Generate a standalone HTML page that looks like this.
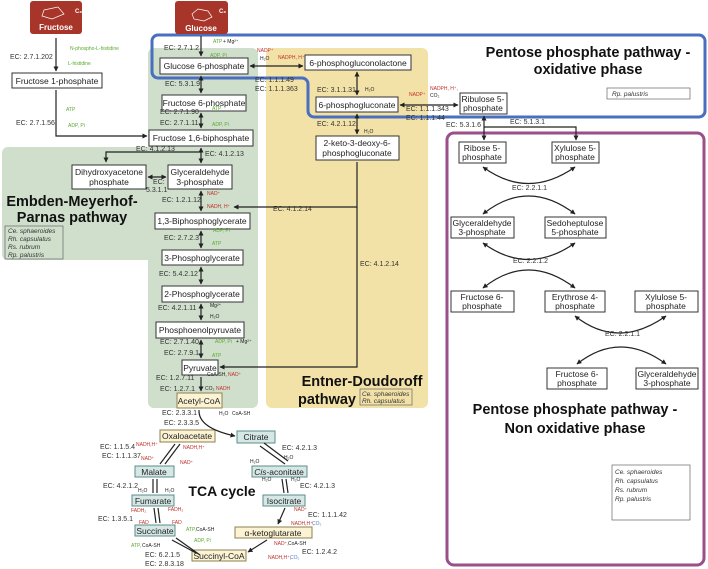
<!DOCTYPE html>
<html><head><meta charset="utf-8"><style>
html,body{margin:0;padding:0;background:#fff}
svg{display:block;font-family:"Liberation Sans",Arial,sans-serif}
.b{fill:#fff;stroke:#333;stroke-width:1}
.t{font-size:8.5px;fill:#222}
.e{font-size:7px;fill:#333}
.g{font-size:5px;fill:#5aaa30}
.r{font-size:5px;fill:#c0302a}
.k{font-size:5px;fill:#222}
.h{font-size:14.5px;font-weight:bold;fill:#111}
.l{stroke:#222;stroke-width:1.2;fill:none}
.tc{fill:#d5e8e6;stroke:#5c8c88;stroke-width:1}
.yc{fill:#fbf3d3;stroke:#8c8250;stroke-width:1}
.sp{font-size:6.5px;font-style:italic;fill:#333}
</style></head><body>
<svg width="708" height="569" viewBox="0 0 708 569">
<defs><marker id="a" markerUnits="userSpaceOnUse" markerWidth="5" markerHeight="5" refX="4.5" refY="2.5" orient="auto"><path d="M0,0L5,2.5L0,5z" fill="#222"/></marker>
<marker id="s" markerUnits="userSpaceOnUse" markerWidth="5" markerHeight="5" refX="0.5" refY="2.5" orient="auto"><path d="M5,0L0,2.5L5,5z" fill="#222"/></marker></defs>
<rect x="266" y="48" width="162" height="360" rx="6" fill="#f3e2a8"/>
<path d="M154,48H252a6,6 0 0 1 6,6V402a6,6 0 0 1-6,6H154a6,6 0 0 1-6-6V260H8a6,6 0 0 1-6-6V153a6,6 0 0 1 6-6H148V54a6,6 0 0 1 6-6z" fill="#cfdfcc"/>
<path d="M158,35H699a6,6 0 0 1 6,6V111a6,6 0 0 1-6,6H314a6,6 0 0 1-6-6V84a6,6 0 0 0-6-6H158a6,6 0 0 1-6-6V41a6,6 0 0 1 6-6z" fill="none" stroke="#4a6fbe" stroke-width="3"/>
<rect x="447" y="133" width="257" height="432" rx="7" fill="none" stroke="#9a4f8a" stroke-width="3"/>
<rect x="30" y="1" width="52" height="33" rx="3" fill="#a8352a"/>
<path d="M44,10L58,7L64,14L52,19L42,16Z" fill="none" stroke="#fff" stroke-width=".7"/>
<text x="56" y="30" text-anchor="middle" font-size="8" font-weight="bold" fill="#fff">Fructose</text>
<text x="75" y="13" font-size="6" fill="#fff" font-weight="bold">C₆</text>
<rect x="175" y="1" width="53" height="33" rx="3" fill="#a8352a"/>
<path d="M192,14L198,9L208,11L212,17L204,21L194,19Z" fill="none" stroke="#fff" stroke-width=".7"/>
<text x="201" y="31" text-anchor="middle" font-size="8" font-weight="bold" fill="#fff">Glucose</text>
<text x="219" y="13" font-size="6" fill="#fff" font-weight="bold">C₆</text>
<text x="588" y="57" text-anchor="middle" class="h">Pentose phosphate pathway -</text>
<text x="588" y="74" text-anchor="middle" class="h">oxidative phase</text>
<rect x="607" y="88" width="83" height="11" fill="#fff" stroke="#666" stroke-width=".7"/><text x="612" y="96" class="sp">Rp. palustris</text>
<text x="72" y="206" text-anchor="middle" class="h">Embden-Meyerhof-</text>
<text x="72" y="222" text-anchor="middle" class="h">Parnas pathway</text>
<rect x="5" y="226" width="58" height="33" fill="none" stroke="#666" stroke-width=".7"/>
<text x="8" y="233" class="sp">Ce. sphaeroides</text><text x="8" y="241" class="sp">Rh. capsulatus</text><text x="8" y="249" class="sp">Rs. rubrum</text><text x="8" y="257" class="sp">Rp. palustris</text>
<text x="362" y="386" text-anchor="middle" class="h">Entner-Doudoroff</text>
<text x="327" y="404" text-anchor="middle" class="h">pathway</text>
<rect x="360" y="389" width="52" height="16" fill="none" stroke="#666" stroke-width=".7"/>
<text x="362" y="396" class="sp">Ce. sphaeroides</text><text x="362" y="403" class="sp">Rh. capsulatus</text>
<text x="222" y="496" text-anchor="middle" font-size="14" font-weight="bold" fill="#111">TCA cycle</text>
<text x="575" y="414" text-anchor="middle" class="h">Pentose phosphate pathway -</text>
<text x="575" y="433" text-anchor="middle" class="h">Non oxidative phase</text>
<rect x="612" y="465" width="78" height="55" fill="#fff" stroke="#666" stroke-width=".7"/>
<text x="615" y="474" class="sp">Ce. sphaeroides</text><text x="615" y="483" class="sp">Rh. capsulatus</text><text x="615" y="492" class="sp">Rs. rubrum</text><text x="615" y="501" class="sp">Rp. palustris</text>
<g>
<rect class="b" x="12" y="73" width="90" height="15"/><text class="t" x="57" y="84" text-anchor="middle">Fructose 1-phosphate</text>
<rect class="b" x="160" y="58" width="88" height="16"/><text class="t" x="204" y="69" text-anchor="middle">Glucose 6-phosphate</text>
<rect class="b" x="162" y="95" width="84" height="16"/><text class="t" x="204" y="106" text-anchor="middle">Fructose 6-phosphate</text>
<rect class="b" x="149" y="130" width="104" height="16"/><text class="t" x="201" y="141" text-anchor="middle">Fructose 1,6-biphosphate</text>
<rect class="b" x="72" y="165" width="74" height="24"/><text class="t" x="109" y="175" text-anchor="middle">Dihydroxyacetone</text><text class="t" x="109" y="185" text-anchor="middle">phosphate</text>
<rect class="b" x="168" y="165" width="64" height="24"/><text class="t" x="200" y="175" text-anchor="middle">Glyceraldehyde</text><text class="t" x="200" y="185" text-anchor="middle">3-phosphate</text>
<rect class="b" x="155" y="213" width="95" height="16"/><text class="t" x="202" y="224" text-anchor="middle">1,3-Biphosphoglycerate</text>
<rect class="b" x="162" y="250" width="81" height="15"/><text class="t" x="202" y="261" text-anchor="middle">3-Phosphoglycerate</text>
<rect class="b" x="162" y="286" width="81" height="16"/><text class="t" x="202" y="297" text-anchor="middle">2-Phosphoglycerate</text>
<rect class="b" x="156" y="322" width="88" height="16"/><text class="t" x="200" y="333" text-anchor="middle">Phosphoenolpyruvate</text>
<rect class="b" x="182" y="360" width="36" height="15"/><text class="t" x="200" y="371" text-anchor="middle">Pyruvate</text>
<rect class="yc" x="177" y="393" width="45" height="15"/><text class="t" x="199" y="404" text-anchor="middle">Acetyl-CoA</text>
<rect class="b" x="305" y="55" width="106" height="15"/><text class="t" x="358" y="66" text-anchor="middle">6-phosphogluconolactone</text>
<rect class="b" x="316" y="97" width="82" height="15"/><text class="t" x="357" y="108" text-anchor="middle">6-phosphogluconate</text>
<rect class="b" x="316" y="136" width="83" height="24"/><text class="t" x="357" y="146" text-anchor="middle">2-keto-3-deoxy-6-</text><text class="t" x="357" y="156" text-anchor="middle">phosphogluconate</text>
<rect class="b" x="460" y="93" width="47" height="21"/><text class="t" x="483" y="102" text-anchor="middle">Ribulose 5-</text><text class="t" x="483" y="111" text-anchor="middle">phosphate</text>
</g>
<g>
<rect class="b" x="459" y="142" width="47" height="21"/><text class="t" x="482" y="151" text-anchor="middle">Ribose 5-</text><text class="t" x="482" y="160" text-anchor="middle">phosphate</text>
<rect class="b" x="552" y="142" width="47" height="21"/><text class="t" x="575" y="151" text-anchor="middle">Xylulose 5-</text><text class="t" x="575" y="160" text-anchor="middle">phosphate</text>
<rect class="b" x="451" y="217" width="63" height="21"/><text class="t" x="482" y="226" text-anchor="middle">Glyceraldehyde</text><text class="t" x="482" y="235" text-anchor="middle">3-phosphate</text>
<rect class="b" x="545" y="217" width="61" height="21"/><text class="t" x="575" y="226" text-anchor="middle">Sedoheptulose</text><text class="t" x="575" y="235" text-anchor="middle">5-phosphate</text>
<rect class="b" x="451" y="291" width="63" height="21"/><text class="t" x="482" y="300" text-anchor="middle">Fructose 6-</text><text class="t" x="482" y="309" text-anchor="middle">phosphate</text>
<rect class="b" x="545" y="291" width="60" height="21"/><text class="t" x="575" y="300" text-anchor="middle">Erythrose 4-</text><text class="t" x="575" y="309" text-anchor="middle">phosphate</text>
<rect class="b" x="635" y="291" width="63" height="21"/><text class="t" x="666" y="300" text-anchor="middle">Xylulose 5-</text><text class="t" x="666" y="309" text-anchor="middle">phosphate</text>
<rect class="b" x="547" y="368" width="60" height="21"/><text class="t" x="577" y="377" text-anchor="middle">Fructose 6-</text><text class="t" x="577" y="386" text-anchor="middle">phosphate</text>
<rect class="b" x="636" y="368" width="62" height="21"/><text class="t" x="667" y="377" text-anchor="middle">Glyceraldehyde</text><text class="t" x="667" y="386" text-anchor="middle">3-phosphate</text>
</g>
<rect class="yc" x="160" y="430" width="55" height="12"/><text class="t" x="187" y="439" text-anchor="middle">Oxaloacetate</text>
<rect class="tc" x="237" y="431" width="38" height="12"/><text class="t" x="256" y="440" text-anchor="middle">Citrate</text>
<rect class="tc" x="135" y="466" width="39" height="11"/><text class="t" x="154" y="475" text-anchor="middle">Malate</text>
<rect class="tc" x="252" y="466" width="55" height="11"/><text class="t" x="279" y="475" text-anchor="middle"><tspan font-style="italic">Cis</tspan>-aconitate</text>
<rect class="tc" x="132" y="495" width="42" height="11"/><text class="t" x="153" y="504" text-anchor="middle">Fumarate</text>
<rect class="tc" x="263" y="495" width="42" height="11"/><text class="t" x="284" y="504" text-anchor="middle">Isocitrate</text>
<rect class="tc" x="135" y="525" width="40" height="11"/><text class="t" x="155" y="534" text-anchor="middle">Succinate</text>
<rect class="yc" x="235" y="527" width="77" height="11"/><text class="t" x="273" y="536" text-anchor="middle">α-ketoglutarate</text>
<rect class="yc" x="192" y="550" width="54" height="11"/><text class="t" x="219" y="559" text-anchor="middle">Succinyl-CoA</text>
<g class="l">
<path d="M56,38V71" marker-end="url(#a)"/>
<path d="M56,90V136H147" marker-end="url(#a)"/>
<path d="M201,36V56" marker-end="url(#a)"/>
<path d="M201,76V93" marker-start="url(#s)" marker-end="url(#a)"/>
<path d="M201,113V128" marker-start="url(#s)" marker-end="url(#a)"/>
<path d="M201,148V163" marker-start="url(#s)" marker-end="url(#a)"/>
<path d="M201,152H106V162" marker-end="url(#a)"/>
<path d="M148,177H166" marker-start="url(#s)" marker-end="url(#a)"/>
<path d="M201,191V211" marker-start="url(#s)" marker-end="url(#a)"/>
<path d="M201,231V248" marker-start="url(#s)" marker-end="url(#a)"/>
<path d="M201,267V284" marker-start="url(#s)" marker-end="url(#a)"/>
<path d="M201,304V320" marker-start="url(#s)" marker-end="url(#a)"/>
<path d="M201,340V358" marker-start="url(#s)" marker-end="url(#a)"/>
<path d="M201,377V391" marker-end="url(#a)"/>
<path d="M250,66H303" marker-start="url(#s)" marker-end="url(#a)"/>
<path d="M357,72V95" marker-start="url(#s)" marker-end="url(#a)"/>
<path d="M357,114V134" marker-start="url(#s)" marker-end="url(#a)"/>
<path d="M400,105H458" marker-start="url(#s)" marker-end="url(#a)"/>
<path d="M357,162V207H234" marker-end="url(#a)"/>
<path d="M357,207V367H220" marker-end="url(#a)"/>
<path d="M484,116V140" marker-start="url(#s)" marker-end="url(#a)"/>
<path d="M484,127H576V140" marker-end="url(#a)"/>
<path d="M483,167Q528,200 575,167" marker-start="url(#s)" marker-end="url(#a)"/>
<path d="M483,214Q528,178 575,214" marker-start="url(#s)" marker-end="url(#a)"/>
<path d="M483,243Q528,276 575,243" marker-start="url(#s)" marker-end="url(#a)"/>
<path d="M483,288Q528,252 575,288" marker-start="url(#s)" marker-end="url(#a)"/>
<path d="M575,316Q618,350 666,316" marker-start="url(#s)" marker-end="url(#a)"/>
<path d="M577,364Q620,330 666,364" marker-start="url(#s)" marker-end="url(#a)"/>
<path d="M199,410Q198,428 235,436" marker-end="url(#a)"/>
<path d="M260,446L285,464M264,443L288,461"/>
<path d="M282,479L284,493M286,479L288,493"/>
<path d="M285,508L278,524" marker-end="url(#a)"/>
<path d="M267,540L248,552" marker-end="url(#a)"/>
<path d="M200,555L176,538M196,553L172,540"/>
<path d="M154,508L156,523M158,508L160,523"/>
<path d="M153,479L153,493M157,479L157,493"/>
<path d="M160,464L175,444M165,464L180,444"/>
</g>
<g class="e">
<text x="10" y="59">EC: 2.7.1.202</text><text x="16" y="125">EC: 2.7.1.56</text>
<text x="164" y="50">EC: 2.7.1.2</text><text x="255" y="82">EC: 1.1.1.49</text><text x="255" y="91">EC: 1.1.1.363</text>
<text x="165" y="86">EC: 5.3.1.9</text><text x="160" y="114">EC: 2.7.1.90</text><text x="160" y="125">EC: 2.7.1.11</text>
<text x="136" y="151">EC: 4.1.2.13</text><text x="205" y="156">EC: 4.1.2.13</text>
<text x="153" y="184">EC:</text><text x="146" y="192">5.3.1.1</text>
<text x="162" y="202">EC: 1.2.1.12</text><text x="164" y="240">EC: 2.7.2.3</text><text x="159" y="276">EC: 5.4.2.12</text>
<text x="158" y="310">EC: 4.2.1.11</text><text x="160" y="344">EC: 2.7.1.40</text><text x="164" y="355">EC: 2.7.9.1</text>
<text x="156" y="380">EC: 1.2.7.11</text><text x="160" y="391">EC: 1.2.7.1</text>
<text x="317" y="92">EC: 3.1.1.31</text><text x="317" y="126">EC: 4.2.1.12</text>
<text x="406" y="111">EC: 1.1.1.343</text><text x="406" y="120">EC: 1.1.1.44</text>
<text x="273" y="211">EC: 4.1.2.14</text><text x="360" y="266">EC: 4.1.2.14</text>
<text x="446" y="127">EC: 5.3.1.6</text><text x="510" y="124">EC: 5.1.3.1</text>
<text x="512" y="190">EC: 2.2.1.1</text><text x="513" y="263">EC: 2.2.1.2</text><text x="605" y="336">EC: 2.2.1.1</text>
<text x="162" y="415">EC: 2.3.3.1</text><text x="164" y="425">EC: 2.3.3.5</text>
<text x="100" y="449">EC: 1.1.5.4</text><text x="102" y="458">EC: 1.1.1.37</text>
<text x="282" y="450">EC: 4.2.1.3</text><text x="300" y="488">EC: 4.2.1.3</text>
<text x="103" y="488">EC: 4.2.1.2</text><text x="98" y="521">EC: 1.3.5.1</text>
<text x="308" y="517">EC: 1.1.1.42</text><text x="302" y="554">EC: 1.2.4.2</text>
<text x="145" y="557">EC: 6.2.1.5</text><text x="145" y="566">EC: 2.8.3.18</text>
</g>
<g>
<text class="g" x="70" y="50">N-phospho-L-histidine</text><text class="g" x="68" y="65">L-histidine</text>
<text class="g" x="66" y="111">ATP</text><text class="g" x="68" y="127">ADP, Pi</text>
<text class="g" x="213" y="43">ATP</text><text class="k" x="223" y="43">+ Mg²⁺</text><text class="g" x="210" y="57">ADP, Pi</text>
<text class="r" x="257" y="52">NADP⁺</text><text class="k" x="260" y="60">H₂O</text><text class="r" x="278" y="59">NADPH, H⁺</text>
<text class="g" x="212" y="110">ATP</text><text class="g" x="212" y="126">ADP, Pi</text>
<text class="r" x="207" y="195">NAD⁺</text><text class="r" x="207" y="208">NADH, H⁺</text>
<text class="g" x="213" y="232">ADP, Pi</text><text class="g" x="212" y="245">ATP</text>
<text class="k" x="210" y="307">Mg²⁺</text><text class="k" x="210" y="318">H₂O</text>
<text class="g" x="215" y="343">ADP, Pi</text><text class="k" x="236" y="343">+ Mg²⁺</text><text class="g" x="212" y="357">ATP</text>
<text class="k" x="207" y="376">CoA-SH,</text><text class="r" x="228" y="376">NAD⁺</text>
<text class="k" x="205" y="390">CO₂</text><text class="r" x="216" y="390">NADH</text>
<text class="k" x="365" y="91">H₂O</text><text class="k" x="364" y="133">H₂O</text>
<text class="r" x="409" y="96">NADP⁺</text><text class="r" x="430" y="90">NADPH, H⁺,</text><text class="k" x="430" y="97">CO₂</text>
<text class="k" x="219" y="415">H₂O</text><text class="k" x="232" y="415">CoA-SH</text>
<text class="r" x="136" y="446">NADH,H⁺</text><text class="r" x="183" y="449">NADH,H⁺</text>
<text class="r" x="141" y="460">NAD⁺</text><text class="r" x="180" y="464">NAD⁺</text>
<text class="k" x="250" y="463">H₂O</text><text class="k" x="284" y="459">H₂O</text>
<text class="k" x="262" y="481">H₂O</text><text class="k" x="291" y="481">H₂O</text>
<text class="k" x="138" y="492">H₂O</text><text class="k" x="165" y="492">H₂O</text>
<text class="r" x="131" y="512">FADH₂</text><text class="r" x="168" y="511">FADH₂</text>
<text class="r" x="139" y="524">FAD</text><text class="r" x="172" y="524">FAD</text>
<text class="r" x="294" y="511">NAD⁺</text><text class="r" x="291" y="525">NADH,H⁺,</text><text fill="#4a80c8" font-size="5" x="312" y="525">CO₂</text>
<text class="g" x="186" y="531">ATP,</text><text class="k" x="196" y="531">CoA-SH</text><text class="g" x="194" y="542">ADP, Pi</text>
<text class="g" x="131" y="547">ATP,</text><text class="k" x="142" y="547">CoA-SH</text>
<text class="r" x="274" y="545">NAD⁺,</text><text class="k" x="288" y="545">CoA-SH</text>
<text class="r" x="268" y="559">NADH,H⁺,</text><text fill="#4a80c8" font-size="5" x="290" y="559">CO₂</text>
</g>
</svg>
</body></html>
